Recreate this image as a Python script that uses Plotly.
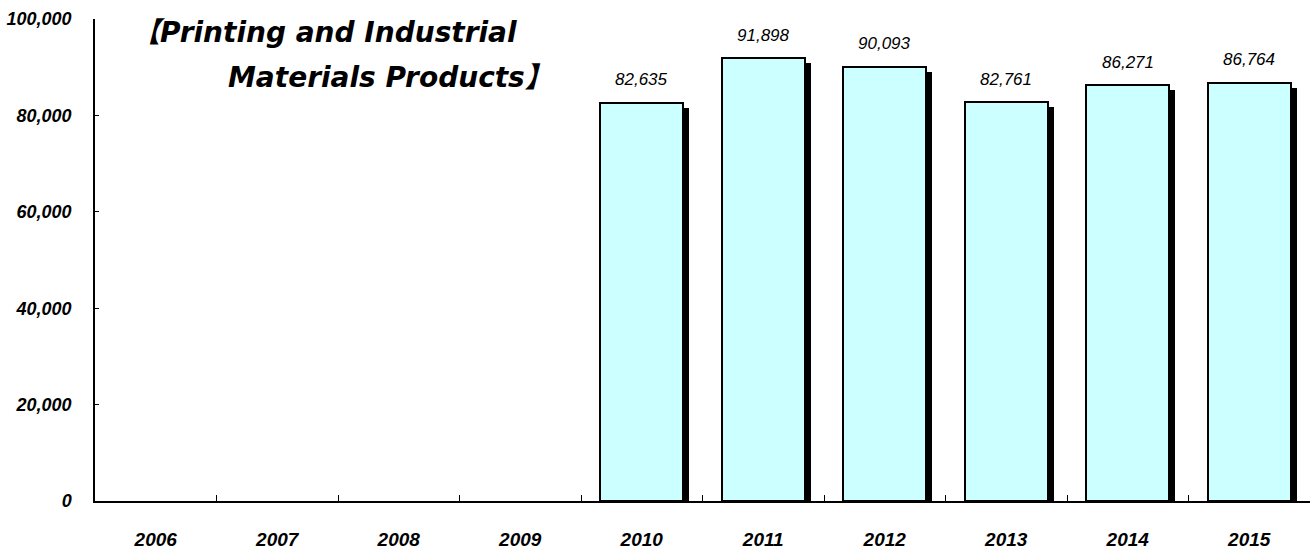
import plotly.graph_objects as go

years = ["2006", "2007", "2008", "2009", "2010", "2011", "2012", "2013", "2014", "2015"]
sales = [None, None, None, None, 82635, 91898, 90093, 82761, 86271, 86764]
y_ticks = [0, 20000, 40000, 60000, 80000, 100000]
y_tick_text = ["0", "20,000", "40,000", "60,000", "80,000", "100,000"]
title_lines = ["【Printing and Industrial", "Materials Products】"]

BAR_W = 0.68
SHADOW_DX = 0.05      # shadow shift to the right, in category units
SHADOW_DY = 1050      # shadow shift downward, in value units

fig = go.Figure()

# drop shadow behind each bar
fig.add_trace(go.Bar(
    x=years, y=sales, base=-SHADOW_DY,
    width=BAR_W, offset=-BAR_W / 2 + SHADOW_DX,
    marker=dict(color="black", line=dict(width=0)),
    hoverinfo="skip", showlegend=False,
))

# main bars
fig.add_trace(go.Bar(
    x=years, y=sales,
    width=BAR_W, offset=-BAR_W / 2,
    marker=dict(color="#CCFFFF", line=dict(color="black", width=2)),
    showlegend=False,
))

# value labels above bars
for i, v in enumerate(sales):
    if v is None:
        continue
    fig.add_annotation(
        x=i, y=v, text=f"{v:,}", showarrow=False, yshift=23,
        font=dict(family="Liberation Sans", size=17, color="black", style="italic"),
    )

# chart heading
title_font = dict(family="DejaVu Sans, Noto Sans CJK JP", size=28, color="black")
fig.add_annotation(
    xref="paper", yref="paper", x=(130 - 95) / 1215, y=1.0, xanchor="left", yanchor="middle",
    yshift=-13, text=f"<b><i>{title_lines[0]}</i></b>", showarrow=False, font=title_font,
)
fig.add_annotation(
    xref="paper", yref="paper", x=(226 - 95) / 1215, y=1.0, xanchor="left", yanchor="middle",
    yshift=-58, text=f"<b><i>{title_lines[1]}</i></b>", showarrow=False, font=title_font,
)

fig.update_layout(
    width=1314, height=549,
    margin=dict(l=95, r=4, t=19, b=48),
    paper_bgcolor="white", plot_bgcolor="white",
    barmode="overlay", bargap=0,
    xaxis=dict(
        type="category", categoryorder="array", categoryarray=years,
        range=[-0.5, len(years) - 0.5], automargin=False,
        showline=True, linecolor="black", linewidth=1.5,
        ticks="inside", tickson="boundaries", ticklen=6, tickcolor="black", tickwidth=1,
        showgrid=False, ticklabelstandoff=20, tickangle=0,
        tickfont=dict(family="Liberation Sans", size=19, color="black", weight="bold", style="italic"),
    ),
    yaxis=dict(
        range=[0, 100000], tickvals=y_ticks, ticktext=y_tick_text, automargin=False,
        showline=True, linecolor="black", linewidth=1.5,
        ticks="inside", ticklen=4, tickcolor="black", tickwidth=1,
        showgrid=False, zeroline=False, ticklabelstandoff=18,
        tickfont=dict(family="Liberation Sans", size=18, color="black", weight="bold", style="italic"),
    ),
)

fig.write_html("out.html")
